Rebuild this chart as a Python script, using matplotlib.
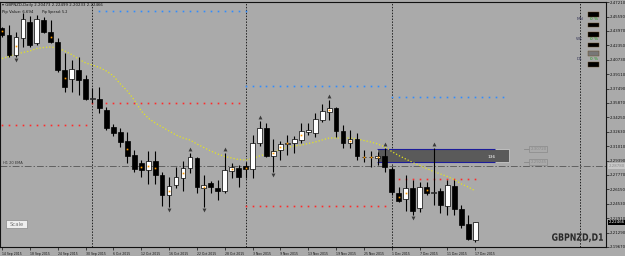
import matplotlib
matplotlib.use('Agg')
import matplotlib.pyplot as plt
from matplotlib.patches import Rectangle, PathPatch
from matplotlib.textpath import TextPath
from matplotlib.font_manager import FontProperties, findfont
from matplotlib.transforms import Affine2D
import numpy as np

# narrow face if there is one, so the tiny terminal text keeps some height
fams = []
for f in ['Liberation Sans Narrow', 'DejaVu Sans Condensed']:
    try:
        findfont(FontProperties(family=f), fallback_to_default=False)
        fams.append(f)
    except Exception:
        pass
plt.rcParams['font.family'] = fams + ['DejaVu Sans']

# ---- GBPNZD daily, 14 Sep 2015 .. 17 Dec 2015 ----
opens = [2.4431, 2.4352, 2.4127, 2.4318, 2.4498, 2.4262, 2.4521, 2.4386, 2.4273, 2.3958,
         2.3857, 2.3958, 2.3857, 2.3632, 2.3632, 2.3508, 2.3317, 2.3261, 2.3159, 2.3002,
         2.2912, 2.2833, 2.2934, 2.2777, 2.2552, 2.2664, 2.2743, 2.2856, 2.2968, 2.2631,
         2.2687, 2.2631, 2.2597, 2.2822, 2.2856, 2.2878, 2.2844, 2.3137, 2.3306, 2.2991,
         2.3058, 2.3126, 2.3137, 2.3171, 2.3261, 2.3249, 2.3396, 2.3486, 2.3531, 2.3272,
         2.3137, 2.3182, 2.2979, 2.2979, 2.2968, 2.2991, 2.2844, 2.2574, 2.2507, 2.2631,
         2.2406, 2.2642, 2.2574, 2.2597, 2.2428, 2.2653, 2.2394, 2.2226, 2.20473]
highs = [2.4442, 2.4464, 2.4386, 2.4599, 2.4566, 2.4577, 2.4554, 2.4521, 2.4318, 2.4149,
         2.4071, 2.4104, 2.3902, 2.3756, 2.3767, 2.3542, 2.3351, 2.3306, 2.3261, 2.3058,
         2.2946, 2.3047, 2.3047, 2.2811, 2.2754, 2.2867, 2.2934, 2.3024, 2.2979, 2.2777,
         2.2709, 2.2721, 2.3024, 2.2912, 2.2889, 2.2923, 2.3227, 2.3384, 2.3362, 2.3182,
         2.3159, 2.3227, 2.3216, 2.3362, 2.3362, 2.3474, 2.3576, 2.3621, 2.3542, 2.3339,
         2.3283, 2.3249, 2.3058, 2.3047, 2.3036, 2.3081, 2.2867, 2.2642, 2.2777, 2.2721,
         2.2698, 2.2698, 2.3081, 2.2631, 2.2721, 2.2721, 2.2439, 2.2327, 2.22499]
lows = [2.4329, 2.4104, 2.4104, 2.4217, 2.4217, 2.4239, 2.4374, 2.4262, 2.3936, 2.3711,
        2.3711, 2.3677, 2.3621, 2.3587, 2.3474, 2.3283, 2.3216, 2.3092, 2.2912, 2.2811,
        2.2754, 2.2676, 2.2676, 2.2428, 2.2417, 2.2631, 2.2597, 2.2799, 2.2574, 2.2417,
        2.2574, 2.2496, 2.2574, 2.2743, 2.2642, 2.2743, 2.2743, 2.3103, 2.2979, 2.2811,
        2.2946, 2.3002, 2.3024, 2.3137, 2.3227, 2.3204, 2.3373, 2.3396, 2.3204, 2.3081,
        2.3081, 2.2946, 2.2923, 2.2867, 2.2889, 2.2811, 2.2552, 2.2473, 2.2372, 2.2327,
        2.2361, 2.2552, 2.2439, 2.2349, 2.2327, 2.2327, 2.2181, 2.2046, 2.20233]
closes = [2.4352, 2.4127, 2.4329, 2.4532, 2.4239, 2.4532, 2.4386, 2.4273, 2.3958, 2.3767,
          2.3969, 2.3846, 2.3632, 2.3643, 2.3531, 2.3306, 2.3249, 2.3148, 2.2991, 2.2844,
          2.2833, 2.2934, 2.2777, 2.2552, 2.2653, 2.2754, 2.2856, 2.2979, 2.2642, 2.2664,
          2.2642, 2.2597, 2.2833, 2.2867, 2.2754, 2.2844, 2.3137, 2.3306, 2.2991, 2.3047,
          2.3126, 2.3137, 2.3182, 2.3272, 2.3283, 2.3407, 2.3497, 2.3531, 2.3272, 2.3137,
          2.3182, 2.2991, 2.2975, 2.2982, 2.2991, 2.2867, 2.2586, 2.2484, 2.2631, 2.2372,
          2.2642, 2.2574, 2.2586, 2.2439, 2.2664, 2.2394, 2.2214, 2.2057, 2.22466]
# yellow dotted moving average
ma_vals = [2.4087, 2.4110, 2.4138, 2.4155, 2.4172, 2.4200, 2.4211, 2.4217, 2.4206, 2.4172,
           2.4132, 2.4082, 2.4037, 2.4014, 2.3986, 2.3947, 2.3891, 2.3801, 2.3722, 2.3621,
           2.3497, 2.3418, 2.3362, 2.3317, 2.3272, 2.3227, 2.3193, 2.3171, 2.3126, 2.3086,
           2.3047, 2.3013, 2.2985, 2.2968, 2.2951, 2.2946, 2.2962, 2.2991, 2.3013, 2.3036,
           2.3064, 2.3086, 2.3103, 2.3114, 2.3131, 2.3148, 2.3171, 2.3193, 2.3193, 2.3193,
           2.3193, 2.3182, 2.3165, 2.3148, 2.3126, 2.3092, 2.3041, 2.2996, 2.2957, 2.2918,
           2.2884, 2.2850, 2.2816, 2.2788, 2.2760, 2.2726, 2.2676, 2.2642, 2.2597]
fract_up = [27, 32, 37, 47, 55, 62]
fract_dn = [2, 24, 29, 39, 59]
orange_bars = [0, 2, 7, 9, 18, 20, 21, 22, 24, 26, 29, 33, 35, 39, 40, 41, 43, 47,
               50, 52, 53, 54, 57, 58, 61]
# monthly dotted levels: value, first bar, last bar
blue_levels = [(2.4622, 14, 35), (2.3778, 35, 55), (2.3654, 56, 72)]
red_levels = [(2.3339, 0, 12), (2.3587, 13, 34), (2.2428, 35, 55), (2.2732, 56, 68)]
separators = [13, 35, 56, 83]
ema_h1 = 2.2878
zone_top, zone_bot = 2.3072, 2.2924
zone_labels = ['2.30720', '2.29245']
ema_label = '2.28780'
last_label = '2.22466'

date_labels = ['14 Sep 2015', '18 Sep 2015', '24 Sep 2015', '30 Sep 2015', '6 Oct 2015',
               '12 Oct 2015', '16 Oct 2015', '22 Oct 2015', '28 Oct 2015', '3 Nov 2015',
               '9 Nov 2015', '13 Nov 2015', '19 Nov 2015', '25 Nov 2015', '1 Dec 2015',
               '7 Dec 2015', '11 Dec 2015', '17 Dec 2015']
price_ticks = [2.19670, 2.21290, 2.22910, 2.24530, 2.26150, 2.27770, 2.29390, 2.31010,
               2.32630, 2.34250, 2.35870, 2.37490, 2.39110, 2.40730, 2.42350, 2.43970,
               2.45590, 2.47210]

BG = '#aaaaaa'
TXT = '#111111'
W, H = 625, 256

def fx(x):
    return x / W

def fy(y):
    return 1 - y / H

fig = plt.figure(figsize=(6.25, 2.56), dpi=100, facecolor=BG)
renderer = fig.canvas.get_renderer()

def fit(s, width_px, **kw):
    # font size that makes string s about width_px wide
    t = fig.text(0, 0, s, fontsize=10, **kw)
    w = t.get_window_extent(renderer).width
    t.remove()
    return 10 * width_px / w

ax = fig.add_axes([0, fy(247), fx(606), (247 - 2) / H], facecolor=BG)

n = len(opens)
idx = np.arange(n)

# separators
for s in separators:
    ax.axvline(s, color='#222222', lw=0.7, ls=(0, (1.5, 1.5)), zorder=1)

# H1 EMA dash-dot line
ax.axhline(ema_h1, color='#606060', lw=0.7, ls=(0, (7, 2, 1.5, 2)), zorder=1)
ax.text(0.2, ema_h1 + 0.0008, 'H1 20 EMA', fontsize=fit('H1 20 EMA', 20),
        color='#333333', va='bottom')

# dotted monthly levels
for v, a, b in blue_levels:
    xs = np.arange(a, b + 1)
    ax.plot(xs, [v] * len(xs), ls='none', marker='s', ms=1.2, mew=0, color='#2f8cff', zorder=2)
for v, a, b in red_levels:
    xs = np.arange(a, b + 1)
    ax.plot(xs, [v] * len(xs), ls='none', marker='s', ms=1.2, mew=0, color='#ff2a2a', zorder=2)

# supply zone box
ax.add_patch(Rectangle((53.9, zone_bot), 72.8 - 53.9, zone_top - zone_bot,
                       facecolor='#5a5a5a', edgecolor='#c8c8c8', lw=0.6, zorder=2))
ax.hlines([zone_top, zone_bot], 53.9, 70.8, color='#1c1c9a', lw=0.8, zorder=3)
ax.text(70.4, (zone_top + zone_bot) / 2 - 0.0015, '136', fontsize=fit('136', 8),
        color='white', ha='center', va='center', zorder=4)
zsize = fit(zone_labels[0], 16)
for v, lab in zip([zone_top, zone_bot], zone_labels):
    ax.plot([75.0, 75.7], [v, v], color='#888888', lw=0.6, clip_on=False)
    ax.text(75.9, v, lab, fontsize=zsize, color='#8a8a8a', va='center', ha='left',
            bbox=dict(boxstyle='square,pad=0.2', fc=BG, ec='#8a8a8a', lw=0.5))

# moving average
ax.plot(idx, ma_vals, color='#e4e420', lw=0.9, ls=(0, (1, 1.6)), zorder=3)

# candles
bw = 0.68
for i in range(n):
    o, h, l, c = opens[i], highs[i], lows[i], closes[i]
    ax.vlines(i, l, h, color='black', lw=0.8, zorder=4)
    bottom = min(o, c)
    height = max(abs(c - o), 0.0003)
    fc = 'white' if c >= o else 'black'
    ax.add_patch(Rectangle((i - bw / 2, bottom), bw, height, facecolor=fc,
                           edgecolor='black', lw=0.5, zorder=5))

ax.plot(orange_bars, [(opens[i] + closes[i]) / 2 for i in orange_bars], ls='none',
        marker='s', ms=1.2, mew=0, color='#ff9a00', zorder=6)

# fractals
ax.plot(fract_up, [highs[i] + 0.004 for i in fract_up], ls='none', marker='^', ms=2.8,
        color='#3a3a3a', mew=0, zorder=6)
ax.plot(fract_dn, [lows[i] - 0.003 for i in fract_dn], ls='none', marker='v', ms=2.8,
        color='#3a3a3a', mew=0, zorder=6)

ax.set_xlim(-0.29, 86.78)
ax.set_ylim(2.19670, 2.47230)

for sp in ax.spines.values():
    sp.set_color('#111111')
    sp.set_linewidth(0.8)

psize = fit('2.47230', 16)
ax.yaxis.tick_right()
ax.set_yticks(price_ticks)
ax.set_yticklabels([f'{v:.5f}' for v in price_ticks])
ax.tick_params(axis='y', direction='out', length=2, width=0.5, pad=1, labelsize=psize,
               colors=TXT)
ax.set_xticks(np.arange(0, n, 4))
ax.set_xticklabels(date_labels, ha='left')
ax.tick_params(axis='x', direction='out', length=2, width=0.5, pad=1.5,
               labelsize=fit('14 Sep 2015', 20), colors=TXT)

# price markers on the right scale
ax.text(1.004, ema_h1, ema_label, transform=ax.get_yaxis_transform(), fontsize=psize,
        color='#8a8a8a', va='center', ha='left',
        bbox=dict(boxstyle='square,pad=0.15', fc='#c8c8c8', ec='none'))
ax.text(1.004, closes[-1], last_label, transform=ax.get_yaxis_transform(), fontsize=psize,
        color='white', va='center', ha='left',
        bbox=dict(boxstyle='square,pad=0.15', fc='black', ec='none'))

# header text
head = '\u25be GBPNZD,Daily 2.20473 2.22499 2.20233 2.22466'
fig.text(fx(2), fy(5), head, fontsize=fit(head, 98), color=TXT, va='center')
fig.text(fx(2), fy(11.5), 'Pip Value: 6.694', fontsize=fit('Pip Value: 6.694', 31),
         color=TXT, va='center')
fig.text(fx(42), fy(11.5), 'Pip Spread: 5.2', fontsize=fit('Pip Spread: 5.2', 26),
         color=TXT, va='center')

# timeframe panel top right
tsize = fit('WK', 7)
for lab, yy in zip(['MN', 'WK', 'D1'], [19, 39, 59]):
    fig.text(fx(583), fy(yy), lab, fontsize=tsize, color='#333355', ha='right', va='center')
    fig.text(fx(594), fy(yy), '0 %', fontsize=tsize, color='#1f9a1f', ha='center', va='center')
bars_y = [(12, 16.5, 'black'), (22.5, 27, 'black'), (32, 36.5, 'black'),
          (42.5, 47, 'black'), (51, 55.5, '#777777'), (62, 66.5, 'black')]
for y0, y1, col in bars_y:
    fig.patches.append(Rectangle((fx(588), fy(y1)), fx(11), (y1 - y0) / H,
                                 transform=fig.transFigure, facecolor=col,
                                 edgecolor='#6a4a20', lw=0.3))

# symbol watermark, squeezed to the narrow bold look of the terminal
bold = FontProperties(family='DejaVu Sans', weight='bold')
tp = TextPath((0, 0), 'GBPNZD,D1', size=10, prop=bold)
ext = tp.get_extents()
cap = TextPath((0, 0), 'G', size=10, prop=bold).get_extents()
sx = 51 / ext.width
sy = 7.6 / cap.height
tr = Affine2D().translate(-ext.x0, 0).scale(sx, sy).translate(552, H - 240.7)
fig.patches.append(PathPatch(tr.transform_path(tp), facecolor='#2a2a2a', edgecolor='none',
                             transform=None))

# scale button
fig.patches.append(Rectangle((fx(6), fy(228)), fx(21), 8 / H, transform=fig.transFigure,
                             facecolor='#eeeeee', edgecolor='#8a8a8a', lw=0.5))
fig.text(fx(16.5), fy(224), 'Scale', fontsize=fit('Scale', 14), color='#777777',
         ha='center', va='center')

fig.savefig('out.png', dpi=100, facecolor=BG)
